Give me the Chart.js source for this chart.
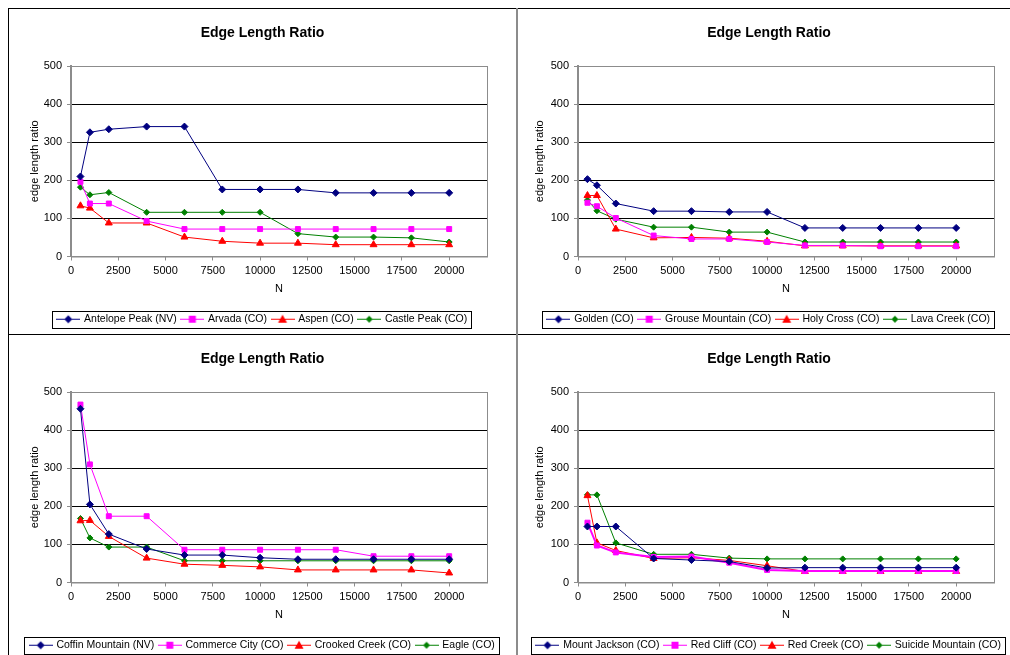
<!DOCTYPE html>
<html>
<head>
<meta charset="utf-8">
<script src="https://cdn.jsdelivr.net/npm/chart.js@4/dist/chart.umd.min.js"></script>
<style>
  html, body { margin: 0; padding: 0; background: #fff; overflow: hidden; }
  body { width: 1010px; height: 655px; position: relative; }
  .panel { position: absolute; }
  .frame-top { position: absolute; left: 8px; top: 8px; width: 1100px; height: 1px; background: #000; }
  .frame-left { position: absolute; left: 8px; top: 8px; width: 1px; height: 700px; background: #000; }
  .frame-mid-h { position: absolute; left: 8px; top: 334px; width: 1100px; height: 1px; background: #000; }
  .frame-mid-v { position: absolute; left: 516px; top: 8px; width: 2px; height: 700px; background: #8c8c8c; }
</style>
</head>
<body>
<div class="frame-top"></div>
<div class="frame-left"></div>
<div class="frame-mid-h"></div>
<div class="frame-mid-v"></div>

<div class="panel" style="left:9px;top:9px;width:507px;height:325px"><canvas id="chart-tl"></canvas></div>
<div class="panel" style="left:518px;top:9px;width:502px;height:325px"><canvas id="chart-tr"></canvas></div>
<div class="panel" style="left:9px;top:335px;width:507px;height:325px"><canvas id="chart-bl"></canvas></div>
<div class="panel" style="left:518px;top:335px;width:502px;height:325px"><canvas id="chart-br"></canvas></div>

<script>
// x values (N) shared by every series
const nValues = [500, 1000, 2000, 4000, 6000, 8000, 10000, 12000, 14000, 16000, 18000, 20000];
const xTicks = [0, 2500, 5000, 7500, 10000, 12500, 15000, 17500, 20000];
const yTicks = [0, 100, 200, 300, 400, 500];

// top left
const antelopePeak = [210, 326, 334, 341, 341, 176, 176, 176, 167, 167, 167, 167];
const arvada       = [196, 139, 139, 93, 72, 72, 72, 72, 72, 72, 72, 72];
const aspen        = [133, 127, 88, 88, 51, 40, 35, 35, 31, 31, 31, 31];
const castlePeak   = [182, 162, 168, 116, 116, 116, 116, 60, 51, 51, 49, 38];

// top right
const golden          = [203, 187, 139, 119, 119, 117, 117, 75, 75, 75, 75, 75];
const grouseMountain  = [141, 132, 101, 55, 46, 46, 38, 29, 29, 27, 27, 27];
const holyCross       = [160, 160, 72, 49, 50, 48, 40, 28, 28, 28, 28, 28];
const lavaCreek       = [148, 120, 98, 77, 77, 64, 64, 38, 38, 38, 38, 38];

// bottom left
const coffinMountain = [456, 205, 127, 88, 72, 72, 65, 61, 61, 61, 61, 61];
const commerceCity   = [467, 310, 174, 174, 86, 86, 86, 86, 86, 69, 69, 69];
const crookedCreek   = [162, 163, 121, 64, 48, 45, 41, 33, 33, 33, 33, 25];
const eagle          = [168, 117, 93, 93, 57, 57, 57, 57, 57, 57, 57, 57];

// bottom right
const mountJackson    = [147, 147, 147, 63, 59, 55, 38, 39, 39, 39, 39, 39];
const redCliff        = [157, 97, 79, 67, 68, 52, 33, 30, 30, 30, 30, 30];
const redCreek        = [228, 104, 84, 63, 65, 58, 44, 29, 29, 29, 29, 29];
const suicideMountain = [230, 230, 104, 74, 74, 64, 62, 62, 62, 62, 62, 62];

const seriesStyles = [
  { color: '#000080', marker: 'rectRot', radius: 3.5 },
  { color: '#FF00FF', marker: 'rect', radius: 3.5 },
  { color: '#FF0000', marker: 'triangle', radius: 4 },
  { color: '#008000', marker: 'rectRot', radius: 3 }
];

Chart.defaults.font.family = '"Liberation Sans", Arial, sans-serif';
Chart.defaults.color = '#000';
Chart.defaults.animation = false;

// little "line + marker" picture for the legend
function legendSwatch(style) {
  const c = document.createElement('canvas');
  c.width = 24;
  c.height = 10;
  const g = c.getContext('2d');
  g.strokeStyle = style.color;
  g.lineWidth = 1;
  g.beginPath();
  g.moveTo(0, 5.5);
  g.lineTo(24, 5.5);
  g.stroke();
  g.fillStyle = style.color;
  g.beginPath();
  if (style.marker === 'rect') {
    g.rect(8.5, 2, 7, 7);
  } else if (style.marker === 'triangle') {
    g.moveTo(12, 1); g.lineTo(16.5, 9); g.lineTo(7.5, 9); g.closePath();
  } else {
    const r = style.radius + 0.5;
    g.moveTo(12, 5.5 - r); g.lineTo(12 + r, 5.5); g.lineTo(12, 5.5 + r); g.lineTo(12 - r, 5.5); g.closePath();
  }
  g.fill();
  return c;
}

const plotFrame = {
  id: 'plotFrame',
  beforeDatasetsDraw(chart) {
    const a = chart.chartArea;
    const ctx = chart.ctx;
    ctx.save();
    ctx.strokeStyle = '#8c8c8c';
    ctx.lineWidth = 1;
    ctx.strokeRect(a.left + 0.5, a.top + 0.5, a.right - a.left, a.bottom - a.top);
    ctx.restore();
  },
  afterDraw(chart) {
    const boxes = chart.legend && chart.legend.legendHitBoxes;
    if (!boxes || !boxes.length) return;
    let x1 = Infinity, y1 = Infinity, x2 = -Infinity, y2 = -Infinity;
    boxes.forEach(b => {
      x1 = Math.min(x1, b.left); y1 = Math.min(y1, b.top);
      x2 = Math.max(x2, b.left + b.width); y2 = Math.max(y2, b.top + b.height);
    });
    const ctx = chart.ctx;
    ctx.save();
    ctx.strokeStyle = '#000';
    ctx.lineWidth = 1;
    ctx.strokeRect(Math.round(x1 - 6) + 0.5, Math.round(y1 - 3) + 0.5, Math.round(x2 - x1 + 10), Math.round(y2 - y1 + 6));
    ctx.restore();
  }
};

function makeChart(id, names, values, leftWidth, rightPad, yTitlePad) {
  const datasets = names.map((name, i) => {
    const s = seriesStyles[i];
    return {
      label: name,
      data: nValues.map((n, k) => ({ x: n, y: values[i][k] })),
      borderColor: s.color,
      backgroundColor: s.color,
      borderWidth: (id === 'chart-br' && i === 1) ? 2 : 1,
      pointStyle: s.marker,
      pointRadius: s.radius,
      pointBorderWidth: 1,
      tension: 0,
      fill: false
    };
  });

  return new Chart(document.getElementById(id), {
    type: 'line',
    data: { datasets: datasets },
    options: {
      responsive: true,
      maintainAspectRatio: false,
      layout: { padding: 0 },
      plugins: {
        title: {
          display: true,
          text: 'Edge Length Ratio',
          font: { size: 14, weight: 'bold' },
          padding: { top: 15.5, bottom: 24.7 }
        },
        legend: {
          position: 'bottom',
          labels: {
            usePointStyle: true,
            pointStyleWidth: 21,
            padding: 5,
            font: { size: 10.5 },
            generateLabels(chart) {
              const items = Chart.defaults.plugins.legend.labels.generateLabels(chart);
              items.forEach((it, i) => { it.pointStyle = legendSwatch(seriesStyles[i]); });
              return items;
            }
          }
        },
        tooltip: { enabled: false }
      },
      scales: {
        x: {
          type: 'linear',
          min: 0,
          max: 22000,
          afterBuildTicks(scale) { scale.ticks = xTicks.map(v => ({ value: v })); },
          afterFit(scale) { scale.height = 52; },
          border: { color: '#8c8c8c', width: 1 },
          grid: { drawOnChartArea: false, drawTicks: true, tickLength: 4, tickColor: '#8c8c8c' },
          ticks: { font: { size: 11 }, padding: 4, maxRotation: 0, autoSkip: false, callback: v => String(v) },
          title: { display: true, text: 'N', font: { size: 11 }, padding: { top: 0, bottom: 13.4 } }
        },
        y: {
          min: 0,
          max: 500,
          afterBuildTicks(scale) { scale.ticks = yTicks.map(v => ({ value: v })); },
          afterFit(scale) { scale.width = leftWidth; },
          border: { color: '#8c8c8c', width: 2 },
          grid: {
            color: c => (c.tick && (c.tick.value === 0 || c.tick.value === 500)) ? '#8c8c8c' : '#000',
            tickColor: '#8c8c8c',
            tickLength: 4
          },
          ticks: { font: { size: 11 }, padding: 5 },
          title: { display: true, text: 'edge length ratio', font: { size: 11 }, padding: { top: yTitlePad, bottom: 0 } }
        },
        // empty right-hand axis, only keeps the plot area off the right edge
        yRight: {
          position: 'right',
          min: 0,
          max: 500,
          afterFit(scale) { scale.width = rightPad; },
          border: { display: false },
          grid: { display: false },
          ticks: { display: false }
        }
      }
    },
    plugins: [plotFrame]
  });
}

const chartTL = makeChart('chart-tl', ['Antelope Peak (NV)', 'Arvada (CO)', 'Aspen (CO)', 'Castle Peak (CO)'],
  [antelopePeak, arvada, aspen, castlePeak], 62, 29, 19.4);
const chartTR = makeChart('chart-tr', ['Golden (CO)', 'Grouse Mountain (CO)', 'Holy Cross (CO)', 'Lava Creek (CO)'],
  [golden, grouseMountain, holyCross, lavaCreek], 60, 26, 15.4);
const chartBL = makeChart('chart-bl', ['Coffin Mountain (NV)', 'Commerce City (CO)', 'Crooked Creek (CO)', 'Eagle (CO)'],
  [coffinMountain, commerceCity, crookedCreek, eagle], 62, 29, 19.4);
const chartBR = makeChart('chart-br', ['Mount Jackson (CO)', 'Red Cliff (CO)', 'Red Creek (CO)', 'Suicide Mountain (CO)'],
  [mountJackson, redCliff, redCreek, suicideMountain], 60, 26, 15.4);
</script>
</body>
</html>
